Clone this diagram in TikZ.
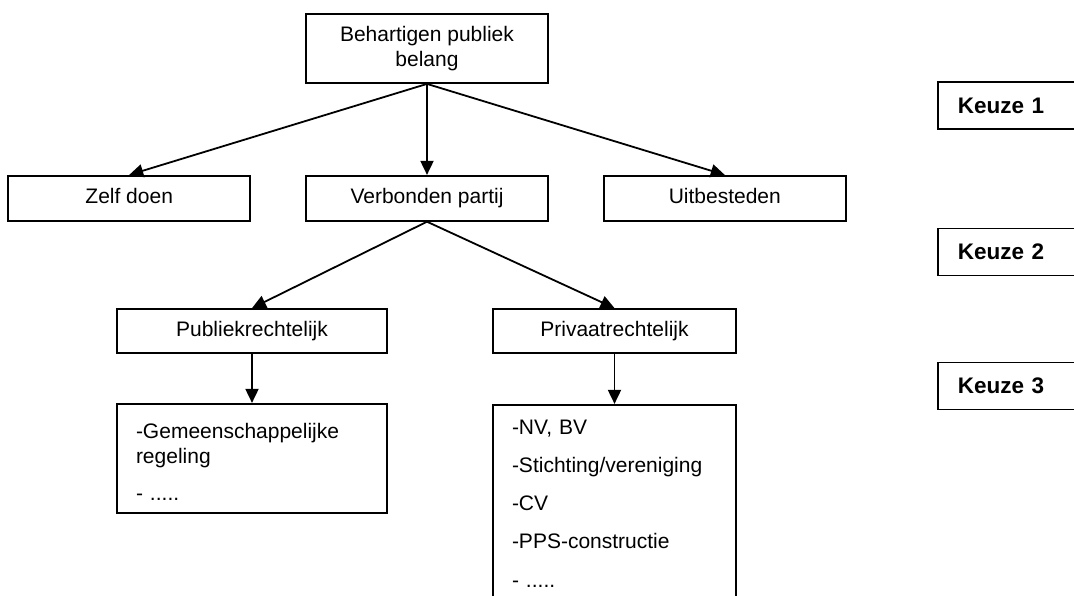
\documentclass[tikz,border=0pt]{standalone}
\usepackage{fontspec}
\setmainfont{Liberation Sans}
\usetikzlibrary{positioning,arrows.meta}

\begin{document}
\begin{tikzpicture}[x=1pt, y=-1pt,
    boxnode/.style={rectangle, draw=black, line width=1.8pt, minimum width=242pt, minimum height=45pt, inner sep=2pt, align=center, font=\fontsize{21}{25}\selectfont},
    oneline/.style={text height=15pt, text depth=5pt},
    listnode/.style={rectangle, draw=black, line width=1.8pt, inner xsep=19pt, align=left, font=\fontsize{21}{25}\selectfont},
    keuzenode/.style={rectangle, draw=black, line width=1.8pt, anchor=west, minimum height=47pt, inner xsep=20pt, text width=150pt, align=left, font=\bfseries\fontsize{22.5}{26}\selectfont},
    connector/.style={-{Triangle[length=14pt,width=13pt]}, line width=1.8pt}
]
\path[use as bounding box] (0,0) rectangle (1074,595);
\clip (0,0) rectangle (1074,595);

% keuze 1
\node[boxnode, minimum height=69pt](belang) at (427,48.5){Behartigen publiek\\belang};
\node[boxnode, oneline](verbonden)[below=91pt of belang]{Verbonden partij};
\node[boxnode, oneline](zelf)[left=54pt of verbonden]{Zelf doen};
\node[boxnode, oneline](uitbesteden)[right=54pt of verbonden]{Uitbesteden};

% keuze 2
\node[boxnode, oneline, minimum width=270pt, minimum height=44pt](publiek) at (252,331){Publiekrechtelijk};
\node[boxnode, oneline, minimum width=243pt, minimum height=44pt](privaat) at (614.5,331){Privaatrechtelijk};

% keuze 3
\node[listnode, text width=232pt, text height=23pt, minimum height=109pt](publijst)[below=49pt of publiek]{-Gemeenschappelijke\\regeling\\[12pt]- .....};
\node[listnode, text width=205pt, minimum height=198pt](privlijst)[below=50pt of privaat]{-NV, BV\\[13pt]-Stichting/vereniging\\[13pt]-CV\\[13pt]-PPS-constructie\\[14pt]- .....};

\node[keuzenode](k1) at (937,105.5){Keuze 1};
\node[keuzenode](k2) at (937,252){Keuze 2};
\node[keuzenode](k3) at (937,386){Keuze 3};

\draw[connector] (belang.south) -- (zelf.north);
\draw[connector] (belang.south) -- (verbonden.north);
\draw[connector] (belang.south) -- (uitbesteden.north);
\draw[connector] (verbonden.south) -- (publiek.north);
\draw[connector] (verbonden.south) -- (privaat.north);
\draw[connector] (publiek.south) -- (publijst.north);
\draw[connector] (privaat.south) -- (privlijst.north);
\end{tikzpicture}
\end{document}
